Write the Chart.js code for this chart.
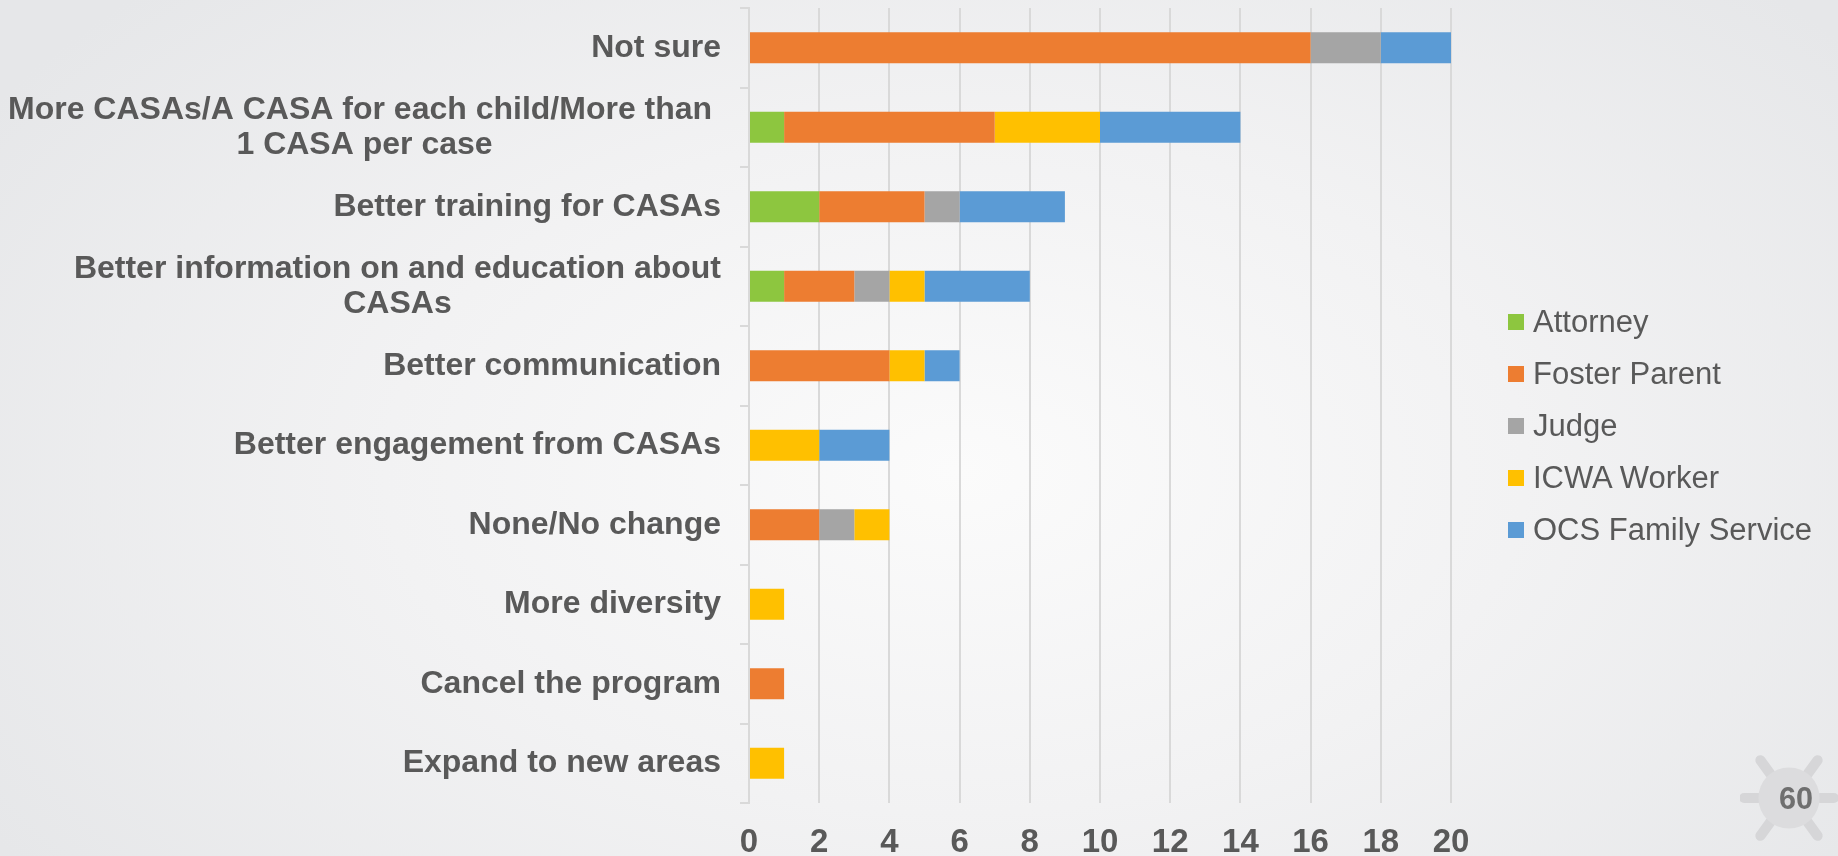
<!DOCTYPE html>
<html>
<head>
<meta charset="utf-8">
<script src="https://cdn.jsdelivr.net/npm/chart.js@4.4.1/dist/chart.umd.min.js"></script>
<style>
  html, body { margin: 0; padding: 0; }
  body {
    width: 1838px; height: 856px; overflow: hidden; position: relative;
    background: radial-gradient(ellipse 62% 80% at 52% 55%, #fbfbfb 0%, #f2f2f3 50%, #e6e7e9 100%);
    font-family: "Liberation Sans", Arial, sans-serif;
  }
  #wrap { position: absolute; left: 0; top: 0; width: 1838px; height: 856px; }
  #legend { position: absolute; left: 1508px; top: 296px; list-style: none; margin: 0; padding: 0; }
  #legend li { display: flex; align-items: center; height: 52px; font-size: 31px; color: #595959; white-space: nowrap; }
  #legend .box { width: 16px; height: 16px; margin-right: 9px; flex: none; }
  #pageNo { position: absolute; left: 1740px; top: 748px; width: 98px; height: 100px; }
</style>
</head>
<body>
<div id="wrap"><canvas id="myChart"></canvas></div>
<ul id="legend"></ul>
<svg id="pageNo" viewBox="0 0 96 98">
  <g fill="none" stroke="#d6d6d8" stroke-width="10" stroke-linecap="round">
    <line x1="20" y1="12" x2="36" y2="34"/>
    <line x1="76" y1="12" x2="60" y2="34"/>
    <line x1="20" y1="86" x2="36" y2="64"/>
    <line x1="76" y1="86" x2="60" y2="64"/>
    <line x1="4" y1="49" x2="18" y2="49"/>
    <line x1="78" y1="49" x2="92" y2="49"/>
  </g>
  <circle cx="48" cy="49" r="30" fill="#dcdcde"/>
  <text x="55" y="60" text-anchor="middle" font-family="Liberation Sans, Arial, sans-serif" font-weight="bold" font-size="30" fill="#6f6f6f">60</text>
</svg>
<script>
/* categorias (eixo Y) */
const categories = [
  'Not sure',
  ['More CASAs/A CASA for each child/More than ', '1 CASA per case'],
  'Better training for CASAs',
  ['Better information on and education about', 'CASAs'],
  'Better communication',
  'Better engagement from CASAs',
  'None/No change',
  'More diversity',
  'Cancel the program',
  'Expand to new areas'
];

/* series */
const attorney     = [0, 1, 2, 1, 0, 0, 0, 0, 0, 0];
const fosterParent = [16, 6, 3, 2, 4, 0, 2, 0, 1, 0];
const judge        = [2, 0, 1, 1, 0, 0, 1, 0, 0, 0];
const icwaWorker   = [0, 3, 0, 1, 1, 2, 1, 1, 0, 1];
const ocsFamily    = [2, 4, 3, 3, 1, 2, 0, 0, 0, 0];

const xTicks = [0, 2, 4, 6, 8, 10, 12, 14, 16, 18, 20];

const textColor = '#595959';
const gridColor = '#d9d9d9';

const dataBars = {
  labels: categories,
  datasets: [
    { label: 'Attorney', data: attorney, backgroundColor: '#8dc63f' },
    { label: 'Foster Parent', data: fosterParent, backgroundColor: '#ed7d31' },
    { label: 'Judge', data: judge, backgroundColor: '#a5a5a5' },
    { label: 'ICWA Worker', data: icwaWorker, backgroundColor: '#ffc000' },
    { label: 'OCS Family Service', data: ocsFamily, backgroundColor: '#5b9bd5' }
  ]
};

/* rotulos do eixo Y: bloco alinhado a direita, linhas centralizadas */
const yLabels = {
  id: 'yLabels',
  afterDraw(chart) {
    const { ctx } = chart;
    const y = chart.scales.y;
    ctx.save();
    ctx.font = 'bold 32px "Liberation Sans", Arial, sans-serif';
    ctx.fillStyle = textColor;
    ctx.textBaseline = 'middle';
    ctx.textAlign = 'center';
    const right = y.right - 28;
    categories.forEach((lab, i) => {
      const lines = Array.isArray(lab) ? lab : [lab];
      const w = Math.max(...lines.map(l => ctx.measureText(l).width));
      const yc = y.getPixelForValue(i);
      lines.forEach((l, k) => {
        ctx.fillText(l, right - w / 2, yc + (k - (lines.length - 1) / 2) * 35);
      });
    });
    ctx.restore();
  }
};

const config = {
  type: 'bar',
  data: dataBars,
  options: {
    indexAxis: 'y',
    responsive: true,
    maintainAspectRatio: false,
    animation: false,
    layout: { padding: { top: 8, right: 387, bottom: 0, left: 0 } },
    datasets: {
      bar: { categoryPercentage: 1, barPercentage: 0.39, borderWidth: 0 }
    },
    scales: {
      x: {
        stacked: true,
        min: 0,
        max: 20,
        afterBuildTicks: (scale) => { scale.ticks = xTicks.map(v => ({ value: v })); },
        afterFit: (scale) => { scale.height = 53; },
        grid: { color: gridColor, lineWidth: 2, drawTicks: false },
        border: { display: false },
        ticks: {
          padding: 20,
          color: textColor,
          font: { family: '"Liberation Sans", Arial, sans-serif', size: 33, weight: 'bold' }
        }
      },
      y: {
        stacked: true,
        afterFit: (scale) => { scale.width = 749; },
        grid: { color: gridColor, lineWidth: 2, drawOnChartArea: false, drawTicks: true, tickLength: 9, offset: true },
        border: { display: true, color: gridColor, width: 2 },
        ticks: { display: false }
      }
    },
    plugins: {
      legend: { display: false },
      tooltip: { enabled: false }
    }
  },
  plugins: [yLabels]
};

const myChart = new Chart(document.getElementById('myChart'), config);

/* legenda em html */
const legend = document.getElementById('legend');
dataBars.datasets.forEach(ds => {
  const li = document.createElement('li');
  const box = document.createElement('span');
  box.className = 'box';
  box.style.background = ds.backgroundColor;
  li.appendChild(box);
  li.appendChild(document.createTextNode(ds.label));
  legend.appendChild(li);
});
</script>
</body>
</html>
